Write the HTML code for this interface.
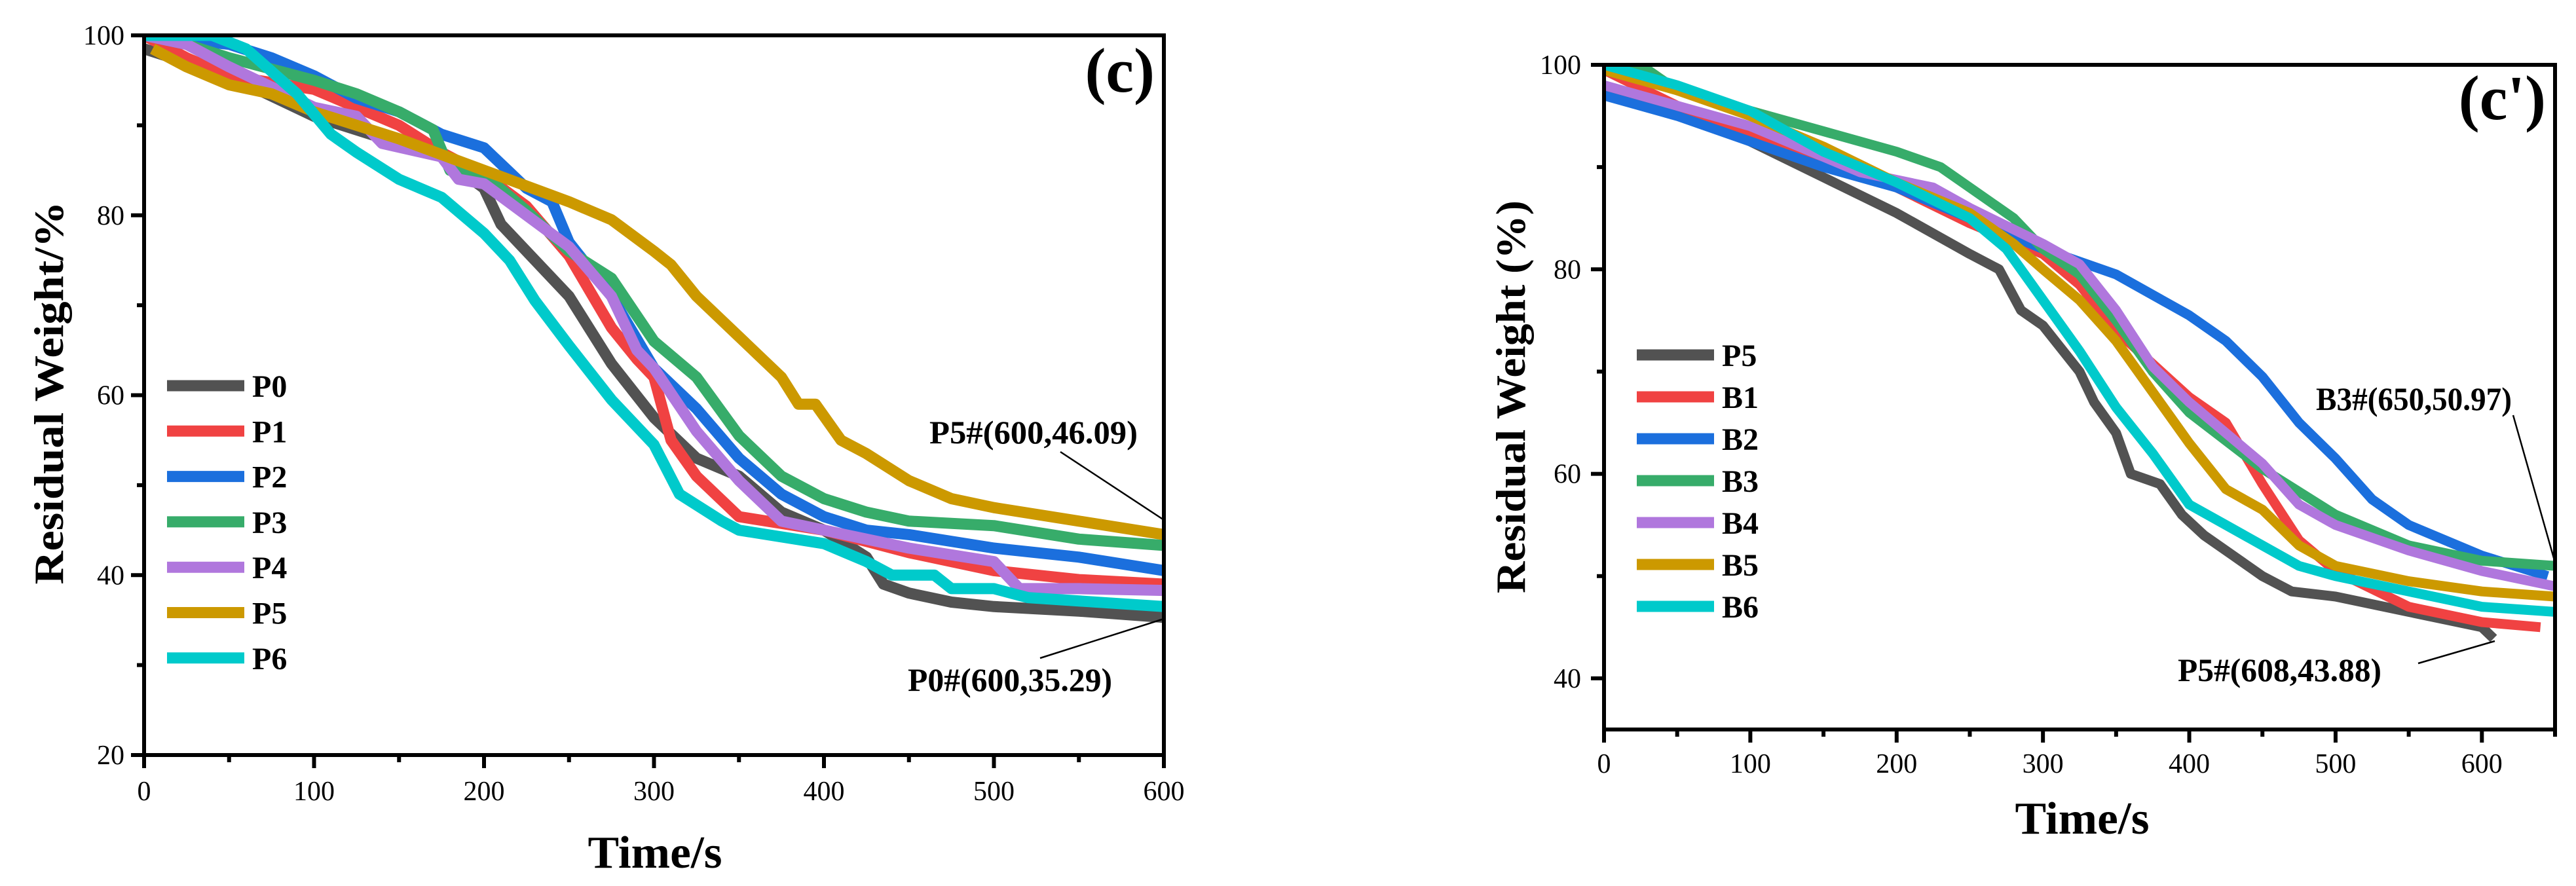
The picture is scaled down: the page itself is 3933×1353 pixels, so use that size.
<!DOCTYPE html>
<html><head><meta charset="utf-8">
<style>
html,body{margin:0;padding:0;background:#fff;}
svg{display:block;font-family:"Liberation Serif",serif;}
</style></head>
<body>
<svg id="fig" xmlns="http://www.w3.org/2000/svg" width="3933" height="1353" viewBox="0 0 3933 1353">
<rect width="3933" height="1353" fill="#fff"/>
</svg>
<script>
// ---------- chart (c) data ----------
const leftNames = ["P0","P1","P2","P3","P4","P5","P6"];
const leftColors = ["#525252","#f04242","#1b6fdd","#37ac6a","#b077dd","#cc9900","#00cacb"];
const p0x = [0,50,100,150,175,200,210,250,275,300,325,350,375,400,425,435,450,475,500,550,600];
const p0y = [98.5,95.5,91,88,86.5,83,79,71,63.5,57.5,53,51,47,45,42,39,38,37,36.5,36,35.3];
const p1x = [0,25,50,100,150,175,200,225,250,275,290,300,310,325,350,400,450,500,550,600];
const p1y = [100,97.5,95.5,94,90,87,84.5,81,75.5,67.5,64,62,55,51,46.5,45,42.5,40.5,39.5,39];
const p2x = [0,50,75,100,125,150,175,200,225,240,250,275,300,325,350,375,400,425,450,500,550,600];
const p2y = [100,99,97.5,95.5,93,91.5,89,87.5,83,81.5,77,71,63,58.5,53,49,46.5,45,44.5,43,42,40.5];
const p3x = [0,25,50,100,125,150,170,180,200,225,250,275,300,325,350,375,400,425,450,500,550,600];
const p3y = [100,99,97.5,95,93.5,91.5,89.5,85,84.5,80.5,76,73,66,62,55.5,51,48.5,47,46,45.5,44,43.3];
const p4x = [0,25,50,100,125,140,175,185,200,225,250,275,290,300,325,350,375,400,450,500,515,550,600];
const p4y = [100,99,96.5,92,91,88,86.5,84,83.5,80,76.5,71,65,63,56,50.5,46,45,43,41.5,38.5,38.5,38.3];
const p5x = [5,25,50,75,100,150,200,250,275,300,310,325,350,375,385,395,410,425,450,475,500,550,600];
const p5y = [98.5,96.5,94.5,93.5,91.5,88.5,85,81.5,79.5,76,74.5,71,66.5,62,59,59,55,53.5,50.5,48.5,47.5,46,44.5];
const p6x = [0,40,60,75,90,110,125,150,175,200,215,230,250,275,300,315,340,350,400,425,440,465,475,500,520,600];
const p6y = [100,100,98.5,96,93.5,89,87,84,82,78,75,70.5,65.5,59.5,54.5,49,46,45,43.5,41.5,40,40,38.5,38.5,37.5,36.5];
const leftX = [p0x,p1x,p2x,p3x,p4x,p5x,p6x];
const leftY = [p0y,p1y,p2y,p3y,p4y,p5y,p6y];
const leftXTicks = [0,100,200,300,400,500,600];
const leftYTicks = [20,40,60,80,100];

// ---------- chart (c') data ----------
const rightNames = ["P5","B1","B2","B3","B4","B5","B6"];
const rightColors = ["#525252","#f04242","#1b6fdd","#37ac6a","#b077dd","#cc9900","#00cacb"];
const r0x = [0,50,100,150,200,250,270,285,300,325,335,350,360,380,395,410,430,450,470,500,550,600,608];
const r0y = [97.5,95.5,92.5,89,85.5,81.5,80,76,74.5,70,67,64,60,59,56,54,52,50,48.5,48,46.5,45,43.9];
const r1x = [0,50,100,150,200,250,300,325,350,400,425,450,475,500,550,600,640];
const r1y = [99.5,96,93.5,91,88,84.5,81.5,78.5,74,67.5,65,59,53.5,50.5,47,45.5,45];
const r2x = [0,50,100,150,200,250,300,350,400,425,450,475,500,525,550,600,645];
const r2y = [97,95,92.5,90,88,85,82,79.5,75.5,73,69.5,65,61.5,57.5,55,52,50];
const r3x = [0,25,50,100,150,200,230,250,280,300,325,350,375,400,450,500,550,600,650];
const r3y = [100.5,100,97.5,95.5,93.5,91.5,90,88,85,82,79.5,75,70,66,60.5,56,53,51.5,51];
const r4x = [0,50,100,150,175,225,250,300,325,350,375,400,450,475,500,550,600,650];
const r4y = [98,96,94,91,89.5,88,86,82.5,80.5,76,70.5,67,61,57,55,52.5,50.5,49];
const r5x = [0,50,100,150,200,250,280,300,325,350,375,400,425,450,475,500,550,600,650];
const r5y = [99.5,97.5,95,92,88.5,85.5,82.5,80,77,73,68,63,58.5,56.5,53,51,49.5,48.5,48];
const r6x = [0,50,100,150,200,250,275,300,325,350,375,400,425,450,475,500,550,600,650];
const r6y = [100,98,95.5,91.5,88.5,85,82,77,72,66.5,62,57,55,53,51,50,48.5,47,46.5];
const rightX = [r0x,r1x,r2x,r3x,r4x,r5x,r6x];
const rightY = [r0y,r1y,r2y,r3y,r4y,r5y,r6y];
const rightXTicks = [0,100,200,300,400,500,600];
const rightYTicks = [40,60,80,100];

const NS = "http://www.w3.org/2000/svg";
const svg = document.getElementById("fig");
function mk(tag, attrs, parent, txt){
  const e = document.createElementNS(NS, tag);
  for (const k in attrs) e.setAttribute(k, attrs[k]);
  if (txt !== undefined) e.textContent = txt;
  (parent || svg).appendChild(e);
  return e;
}

function drawChart(cfg){
  const g = mk("g", {});
  
  
  const sx = v => cfg.x0 + (v - cfg.xmin) / (cfg.xmax - cfg.xmin) * (cfg.x1 - cfg.x0);
  const sy = v => cfg.y1 - (v - cfg.ymin) / (cfg.ymax - cfg.ymin) * (cfg.y1 - cfg.y0);
  const clipId = cfg.name + "-clip";
  const defs = mk("defs", {}, g);
  const cp = mk("clipPath", {id: clipId}, defs);
  mk("rect", {x: cfg.x0, y: cfg.y0, width: cfg.x1 - cfg.x0, height: cfg.y1 - cfg.y0}, cp);
  const sg = mk("g", {"clip-path": "url(#" + clipId + ")"}, g);
  for (let i = 0; i < cfg.xs.length; i++){
    const pts = cfg.xs[i].map((x, j) => sx(x).toFixed(1) + "," + sy(cfg.ys[i][j]).toFixed(1)).join(" ");
    const pl = mk("polyline", {points: pts, fill: "none", stroke: cfg.colors[i], "stroke-width": cfg.lw, "stroke-linejoin": "round", "stroke-linecap": "butt"}, sg);
    
    
  }
  const fr = mk("rect", {x: cfg.x0, y: cfg.y0, width: cfg.x1 - cfg.x0, height: cfg.y1 - cfg.y0, fill: "none", stroke: "#000", "stroke-width": 6}, g);
  
  
  const xt = mk("g", {}, g);
  
  
  for (let v = cfg.xmin; v <= cfg.xmax + 0.01; v += 50){
    const major = cfg.xticks.includes(v);
    mk("line", {x1: sx(v), x2: sx(v), y1: cfg.y1, y2: cfg.y1 + (major ? 20 : 11), stroke: "#000", "stroke-width": 6}, xt);
  }
  cfg.xticks.forEach(v => {
    const t = mk("text", {x: sx(v), y: cfg.xlabY, "font-size": 42, "text-anchor": "middle"}, xt, String(v));
    
    
  });
  const yt = mk("g", {}, g);
  
  
  for (let v = Math.ceil(cfg.ymin / 10) * 10; v <= cfg.ymax + 0.01; v += 10){
    const major = cfg.yticks.includes(v);
    mk("line", {x1: cfg.x0, x2: cfg.x0 - (major ? 20 : 11), y1: sy(v), y2: sy(v), stroke: "#000", "stroke-width": 6}, yt);
  }
  cfg.yticks.forEach(v => {
    const t = mk("text", {x: cfg.ylabX, y: sy(v) + 14, "font-size": 42, "text-anchor": "end"}, yt, String(v));
    
    
  });
  const xtitle = mk("text", {x: cfg.xtX, y: cfg.xtY, "font-size": 70, "font-weight": "bold", "text-anchor": "middle", textLength: 205, lengthAdjust: "spacingAndGlyphs"}, g, "Time/s");
  
  
  const ytitle = mk("text", {x: 0, y: 0, "font-size": 64, "font-weight": "bold", "text-anchor": "middle", transform: "translate(" + cfg.ytX + "," + cfg.ytY + ") rotate(-90)", textLength: cfg.ytLen, lengthAdjust: "spacingAndGlyphs"}, g, cfg.ytitle);
  
  
  const pl = mk("text", {x: cfg.x1 - 14, y: cfg.panelY, "font-size": 96, "font-weight": "bold", "text-anchor": "end"}, g, cfg.panel);
  
  
  const lg = mk("g", {}, g);
  
  
  cfg.names.forEach((n, i) => {
    const y = cfg.legY + i * cfg.legDy;
    const e = mk("g", {}, lg);
    
    
    mk("line", {x1: cfg.legX, x2: cfg.legX + 118, y1: y, y2: y, stroke: cfg.colors[i], "stroke-width": 17}, e);
    mk("text", {x: cfg.legX + 130, y: y + 17, "font-size": 48, "font-weight": "bold"}, e, n);
  });
  cfg.ann.forEach(a => {
    const ag = mk("g", {}, g);
    
    
    mk("line", {x1: a.lx1, y1: a.ly1, x2: a.lx2, y2: a.ly2, stroke: "#000", "stroke-width": 2.5}, ag);
    mk("text", {x: a.tx, y: a.ty, "font-size": 50, "font-weight": "bold", textLength: a.tl, lengthAdjust: "spacingAndGlyphs"}, ag, a.text);
  });
}

drawChart({name: "chart-c", x0: 220, x1: 1777, y0: 54, y1: 1153, xmin: 0, xmax: 600, ymin: 20, ymax: 100,
  xs: leftX, ys: leftY, names: leftNames, colors: leftColors, lw: 17,
  xticks: leftXTicks, yticks: leftYTicks, xlabY: 1222, ylabX: 190,
  xtX: 1000, xtY: 1325, ytX: 96, ytY: 600, ytLen: 585, ytitle: "Residual Weight/%",
  panel: "(c)", panelY: 140, legX: 255, legY: 589, legDy: 69.3,
  ann: [
    {text: "P5#(600,46.09)", tx: 1419, ty: 677, tl: 318, lx1: 1619, ly1: 690, lx2: 1777, ly2: 794},
    {text: "P0#(600,35.29)", tx: 1386, ty: 1055, tl: 312, lx1: 1588, ly1: 1005, lx2: 1777, ly2: 945}
  ]});

drawChart({name: "chart-c-prime", x0: 2449, x1: 3901, y0: 99, y1: 1114, xmin: 0, xmax: 650, ymin: 35, ymax: 100,
  xs: rightX, ys: rightY, names: rightNames, colors: rightColors, lw: 15,
  xticks: rightXTicks, yticks: rightYTicks, xlabY: 1180, ylabX: 2414,
  xtX: 3179, xtY: 1273, ytX: 2328, ytY: 606, ytLen: 600, ytitle: "Residual Weight (%)",
  panel: "(c')", panelY: 182, legX: 2499, legY: 542, legDy: 64,
  ann: [
    {text: "B3#(650,50.97)", tx: 3536, ty: 626, tl: 299, lx1: 3837, ly1: 634, lx2: 3901, ly2: 859},
    {text: "P5#(608,43.88)", tx: 3325, ty: 1040, tl: 311, lx1: 3692, ly1: 1013, lx2: 3809, ly2: 979}
  ]});
</script>
</body></html>
